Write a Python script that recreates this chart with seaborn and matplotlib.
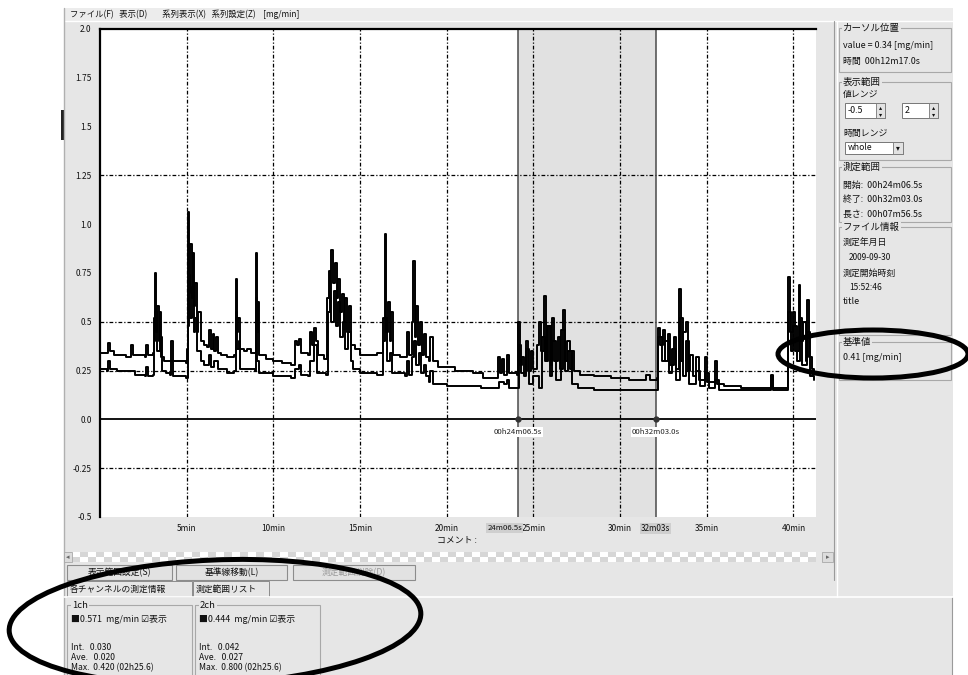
import matplotlib
matplotlib.use("Agg")
import numpy as np
import pandas as pd
import matplotlib.pyplot as plt
from matplotlib.patches import Rectangle, Ellipse
import seaborn as sns

# ---- measured traces: elapsed time [min] and rate [mg/min] ----
ch1_time = [0.0, 0.4, 0.45, 0.55, 0.8, 1.5, 1.75, 1.8, 1.9, 2.6, 2.65, 2.75, 3.05, 3.1, 3.15, 3.22,
            3.3, 3.38, 3.45, 3.52, 3.7, 4.05, 4.1, 4.2, 4.95, 5.0, 5.08, 5.15, 5.2, 5.28, 5.35, 5.42,
            5.5, 5.58, 5.65, 5.8, 6.0, 6.2, 6.3, 6.38, 6.5, 6.58, 6.7, 6.8, 7.0, 7.3, 7.75, 7.82,
            7.9, 7.98, 8.05, 8.3, 8.5, 8.7, 8.95, 9.0, 9.06, 9.12, 9.2, 9.6, 10.0, 10.5, 11.0, 11.2,
            11.25, 11.35, 11.5, 11.6, 12.0, 12.1, 12.2, 12.35, 12.45, 12.55, 12.9, 13.05, 13.1, 13.2,
            13.28, 13.35, 13.45, 13.55, 13.65, 13.75, 13.85, 13.95, 14.05, 14.15, 14.25, 14.35, 14.5,
            14.7, 15.0, 15.5, 16.0, 16.3, 16.35, 16.45, 16.5, 16.6, 16.7, 16.8, 16.9, 17.3, 17.6,
            17.7, 17.8, 18.0, 18.08, 18.15, 18.25, 18.35, 18.45, 18.55, 18.7, 18.8, 19.0, 19.05,
            19.2, 19.5, 20.5, 21.5, 22.0, 22.1, 22.9, 22.95, 23.05, 23.2, 23.3, 23.5, 23.6, 24.05,
            24.12, 24.2, 24.35, 24.45, 24.6, 24.7, 24.85, 25.0, 25.2, 25.35, 25.45, 25.6, 25.7,
            25.85, 26.0, 26.1, 26.2, 26.4, 26.55, 26.7, 26.8, 26.95, 27.1, 27.2, 27.35, 27.7, 28.5,
            29.5, 30.5, 31.3, 31.5, 31.7, 32.1, 32.18, 32.3, 32.45, 32.6, 32.75, 32.9, 33.1, 33.25,
            33.38, 33.5, 33.65, 33.8, 33.9, 34.05, 34.2, 34.4, 34.55, 34.9, 35.0, 35.5, 35.6, 36.0,
            37.0, 38.6, 38.7, 38.8, 39.6, 39.7, 39.8, 39.95, 40.1, 40.3, 40.4, 40.55, 40.7, 40.8,
            40.9, 41.05, 41.2]
ch1_rate = [0.34, 0.34, 0.39, 0.35, 0.33, 0.32, 0.32, 0.38, 0.33, 0.32, 0.38, 0.33, 0.34, 0.52, 0.75, 0.45,
            0.58, 0.40, 0.55, 0.32, 0.30, 0.30, 0.40, 0.30, 0.29, 0.36, 1.06, 0.65, 0.90, 0.62, 0.85, 0.58,
            0.70, 0.45, 0.55, 0.40, 0.38, 0.37, 0.46, 0.36, 0.44, 0.35, 0.42, 0.34, 0.33, 0.32, 0.33, 0.72,
            0.45, 0.52, 0.36, 0.35, 0.36, 0.34, 0.34, 0.85, 0.45, 0.60, 0.33, 0.31, 0.30, 0.29, 0.28, 0.28,
            0.40, 0.38, 0.41, 0.34, 0.33, 0.45, 0.38, 0.47, 0.40, 0.33, 0.31, 0.31, 0.62, 0.76,
            0.60, 0.87, 0.70, 0.80, 0.62, 0.72, 0.55, 0.64, 0.50, 0.62, 0.45, 0.58, 0.38,
            0.36, 0.33, 0.33, 0.34, 0.35, 0.52, 0.95, 0.45, 0.60, 0.40, 0.55, 0.33, 0.32, 0.32,
            0.45, 0.33, 0.50, 0.81, 0.42, 0.58, 0.38, 0.50, 0.33, 0.44, 0.32, 0.30, 0.42,
            0.30, 0.27, 0.25, 0.24, 0.24, 0.21, 0.21, 0.32, 0.24, 0.31, 0.23, 0.33, 0.24, 0.23,
            0.50, 0.28, 0.32, 0.22, 0.40, 0.25, 0.35, 0.26, 0.38, 0.50, 0.35, 0.63, 0.30,
            0.48, 0.28, 0.52, 0.30, 0.42, 0.26, 0.56, 0.30, 0.40, 0.26, 0.35, 0.25, 0.23, 0.22,
            0.21, 0.20, 0.20, 0.23, 0.20, 0.21, 0.47, 0.38, 0.46, 0.30, 0.44, 0.28, 0.42, 0.26,
            0.67, 0.30, 0.45, 0.50, 0.25, 0.33, 0.22, 0.32, 0.20, 0.32, 0.19, 0.30, 0.18, 0.17,
            0.16, 0.16, 0.23, 0.16, 0.16, 0.73, 0.45, 0.55, 0.35, 0.69, 0.40, 0.50, 0.30, 0.61,
            0.32, 0.26, 0.25]

ch2_time = [0.0, 0.4, 0.45, 0.55, 1.0, 2.0, 2.6, 2.65, 2.75, 3.05, 3.1, 3.2, 3.3, 3.45, 3.55, 3.8,
            4.05, 4.1, 4.2, 4.95, 5.05, 5.12, 5.2, 5.3, 5.4, 5.5, 5.6, 5.8, 6.0, 6.3, 6.4, 6.6, 6.8,
            7.3, 7.75, 7.82, 7.9, 8.0, 8.1, 8.95, 9.0, 9.08, 9.2, 10.0, 11.0, 11.25, 11.5, 11.6,
            12.0, 12.1, 12.35, 12.5, 13.05, 13.15, 13.25, 13.35, 13.5, 13.6, 13.75, 13.85, 14.0,
            14.15, 14.3, 14.45, 14.6, 15.0, 16.0, 16.35, 16.45, 16.55, 16.7, 16.85, 17.6, 17.7,
            17.8, 18.0, 18.1, 18.2, 18.4, 18.5, 18.7, 18.8, 19.0, 19.05, 19.2, 20.0, 22.0, 22.9,
            23.0, 23.3, 23.5, 23.6, 24.05, 24.15, 24.3, 24.6, 24.75, 25.0, 25.3, 25.5, 25.65, 25.8,
            25.95, 26.1, 26.3, 26.6, 26.8, 27.0, 27.2, 27.6, 28.5, 32.1, 32.2, 32.4, 32.6, 32.8,
            33.0, 33.2, 33.45, 33.6, 33.8, 34.0, 34.4, 34.6, 34.9, 35.1, 35.5, 35.7, 38.6, 38.7,
            38.8, 39.6, 39.7, 39.85, 40.0, 40.2, 40.35, 40.5, 40.8, 40.95, 41.2]
ch2_rate = [0.26, 0.25, 0.30, 0.26, 0.25, 0.23, 0.22, 0.27, 0.22, 0.23, 0.40, 0.55, 0.35, 0.42, 0.25, 0.24,
            0.23, 0.30, 0.22, 0.21, 0.48, 0.74, 0.52, 0.68, 0.45, 0.52, 0.35, 0.30, 0.28, 0.33, 0.27, 0.30, 0.26,
            0.24, 0.25, 0.55, 0.36, 0.40, 0.26, 0.25, 0.62, 0.30, 0.24, 0.22, 0.21, 0.26, 0.28, 0.23,
            0.22, 0.30, 0.38, 0.24, 0.23, 0.55, 0.62, 0.50, 0.66, 0.48, 0.60, 0.42, 0.50,
            0.36, 0.45, 0.30, 0.26, 0.24, 0.23, 0.40, 0.52, 0.30, 0.34, 0.24, 0.22, 0.30,
            0.23, 0.32, 0.40, 0.28, 0.34, 0.24, 0.28, 0.22, 0.19, 0.25, 0.18, 0.17, 0.16, 0.16,
            0.19, 0.18, 0.20, 0.16, 0.16, 0.38, 0.24, 0.36, 0.18, 0.22, 0.16, 0.42, 0.30, 0.48,
            0.22, 0.40, 0.20, 0.46, 0.25, 0.35, 0.18, 0.16, 0.15, 0.15, 0.42, 0.30, 0.40, 0.24,
            0.36, 0.20, 0.52, 0.22, 0.40, 0.18, 0.25, 0.17, 0.24, 0.16, 0.20, 0.15, 0.15, 0.22,
            0.15, 0.15, 0.55, 0.35, 0.48, 0.30, 0.52, 0.28, 0.45, 0.22, 0.20]

# ---- axis setup ----
x_ticks = [5, 10, 15, 20, 25, 30, 35, 40]
x_tick_labels = ["5min", "10min", "15min", "20min", "25min", "30min", "35min", "40min"]
y_ticks = [-0.5, -0.25, 0.0, 0.25, 0.5, 0.75, 1.0, 1.25, 1.5, 1.75, 2.0]
y_tick_labels = ["-0.5", "-0.25", "0.0", "0.25", "0.5", "0.75", "1.0", "1.25", "1.5", "1.75", "2.0"]
x_range = (0.0, 41.3)
y_range = (-0.5, 2.0)
h_grid_levels = [1.25, 0.5, 0.25, -0.25]

# measurement window
range_start = 24.108
range_end = 32.05
range_start_label = "24m06.5s"
range_end_label = "32m03s"
range_start_mark = "00h24m06.5s"
range_end_mark = "00h32m03.0s"

# ---- side panel texts ----
menu_text = "ファイル(F)   表示(D)        系列表示(X)   系列設定(Z)    [mg/min]"
cursor_title = "カーソル位置"
cursor_value = "value = 0.34 [mg/min]"
cursor_time = "時間  00h12m17.0s"
view_title = "表示範囲"
value_range_label = "値レンジ"
value_range_low = "-0.5"
value_range_high = "2"
time_range_label = "時間レンジ"
time_range_value = "whole"
meas_title = "測定範囲"
meas_lines = ["開始:  00h24m06.5s", "終了:  00h32m03.0s", "長さ:  00h07m56.5s"]
file_title = "ファイル情報"
file_lines = [("測定年月日", 0), ("2009-09-30", 6), ("測定開始時刻", 0), ("15:52:46", 6), ("title", 0)]
ref_title = "基準値"
ref_value = "0.41 [mg/min]"

button_labels = ["表示範囲設定(S)", "基準線移動(L)", "測定範囲削除(D)"]
tab_labels = ["各チャンネルの測定情報", "測定範囲リスト"]
channel_names = ["1ch", "2ch"]
channel_head = ["■0.571  mg/min ☑表示", "■0.444  mg/min ☑表示"]
channel_int = ["Int.   0.030", "Int.   0.042"]
channel_ave = ["Ave.   0.020", "Ave.   0.027"]
channel_max = ["Max.  0.420 (02h25.6)", "Max.  0.800 (02h25.6)"]
comment_label = "コメント :"

sns.set_theme(style="white")
plt.rcParams["font.family"] = ["Noto Sans CJK JP", "DejaVu Sans"]

W, H = 968, 675
fig = plt.figure(figsize=(W / 100, H / 100), dpi=100)
fig.patch.set_facecolor("white")

PANEL = "#e6e6e6"
EDGE = "#a8a8a8"


def frac(x0, y0, x1, y1):
    return [x0 / W, 1 - y1 / H, (x1 - x0) / W, (y1 - y0) / H]


# background window in pixel coordinates
bg = fig.add_axes([0, 0, 1, 1], zorder=0)
bg.set_xlim(0, W)
bg.set_ylim(H, 0)
bg.axis("off")


def box(x0, y0, x1, y1, fc=PANEL, ec="none", lw=0.8, **kw):
    bg.add_patch(Rectangle((x0, y0), x1 - x0, y1 - y0, facecolor=fc, edgecolor=ec, linewidth=lw, **kw))


def put(x, y, s, size=6.5, ha="left", color="#111111", **kw):
    bg.text(x, y, s, fontsize=size, ha=ha, va="center", color=color, **kw)


def group(x0, y0, x1, y1, title, tx=None):
    box(x0, y0, x1, y1, fc="none", ec=EDGE, lw=0.8)
    put(x0 + 5 if tx is None else tx, y0, title, size=6.8,
        bbox=dict(facecolor=PANEL, edgecolor="none", pad=0.5))


box(64, 8, 953, 675)                        # window body
box(64, 8, 953, 21, fc="#ececec")           # menu strip
bg.plot([64, 953], [21, 21], color="white", lw=1)
put(70, 14.5, menu_text, size=6)
bg.plot([64, 64], [8, 675], color="#b0b0b0", lw=1)
box(61, 110, 65, 140, fc="#222222")

# plot panel / right panel separators
bg.plot([834, 834], [21, 580], color="#9a9a9a", lw=0.8)
bg.plot([837, 837], [21, 597], color="#ffffff", lw=1.0)
bg.plot([952, 952], [597, 675], color="#9a9a9a", lw=0.8)
bg.plot([64, 953], [597, 597], color="#ffffff", lw=1.2)

# checkered horizontal scrollbar
cell = 8
ncol = (820 - 72) // cell
checker = np.indices((2, ncol)).sum(axis=0) % 2
bg.imshow(checker, cmap=matplotlib.colors.ListedColormap(["#ffffff", "#d6d6d6"]),
          extent=(72, 72 + ncol * cell, 562, 552), aspect="auto", interpolation="nearest", zorder=1)
box(64, 552, 72, 562, fc="#dcdcdc", ec=EDGE, lw=0.6, zorder=2)
put(68, 557, "◂", size=5, ha="center", color="#666666", zorder=3)
box(822, 552, 833, 562, fc="#dcdcdc", ec=EDGE, lw=0.6, zorder=2)
put(827.5, 557, "▸", size=5, ha="center", color="#666666", zorder=3)

# buttons and tabs
for (x0, x1), lab, col in zip([(67, 172), (176, 287), (293, 415)], button_labels,
                              ["#111111", "#111111", "#9a9a9a"]):
    box(x0, 565, x1, 580, fc="#e2e2e2", ec="#8c8c8c", lw=0.8)
    put((x0 + x1) / 2, 572.5, lab, size=6.3, ha="center", color=col)
for (x0, x1), lab in zip([(67, 192), (193, 269)], tab_labels):
    box(x0, 581, x1, 597, fc=PANEL, ec="#8c8c8c", lw=0.7)
    put(x0 + 3, 589, lab, size=6.3)

# per-channel info boxes
for i, x0 in enumerate([67, 195]):
    group(x0, 605, x0 + 125, 690, channel_names[i])
    put(x0 + 4, 619, channel_head[i], size=6.4)
    put(x0 + 4, 647, channel_int[i], size=6.2)
    put(x0 + 4, 657.5, channel_ave[i], size=6.2)
    put(x0 + 4, 668, channel_max[i], size=6.2)

# right-hand control panel
group(839, 28, 951, 72, cursor_title, tx=843)
put(843, 45, cursor_value, size=6.4)
put(843, 61, cursor_time, size=6.4)

group(839, 82, 951, 160, view_title, tx=843)
put(843, 94, value_range_label, size=6.4)
box(845, 103, 885, 118, fc="white", ec="#777777", lw=0.7)
put(848, 110.5, value_range_low, size=6.4)
box(876, 103, 885, 118, fc="#e2e2e2", ec="#777777", lw=0.6)
put(880.5, 107, "▴", size=4.5, ha="center")
put(880.5, 114.5, "▾", size=4.5, ha="center")
box(902, 103, 938, 118, fc="white", ec="#777777", lw=0.7)
put(905, 110.5, value_range_high, size=6.4)
box(929, 103, 938, 118, fc="#e2e2e2", ec="#777777", lw=0.6)
put(933.5, 107, "▴", size=4.5, ha="center")
put(933.5, 114.5, "▾", size=4.5, ha="center")
put(843, 133, time_range_label, size=6.4)
box(845, 142, 903, 154, fc="white", ec="#777777", lw=0.7)
put(848, 148, time_range_value, size=6.2)
box(893, 142, 903, 154, fc="#e2e2e2", ec="#777777", lw=0.6)
put(898, 148, "▾", size=5.5, ha="center")

group(839, 167, 951, 222, meas_title, tx=843)
for k, s in enumerate(meas_lines):
    put(843, 185 + 14.5 * k, s, size=6.4)

group(839, 227, 951, 335, file_title, tx=843)
fy = [243, 257, 273, 287, 302]
for (s, ind), y in zip(file_lines, fy):
    put(843 + ind, y, s, size=6.4 if ind == 0 else 6.0)

group(839, 342, 951, 380, ref_title, tx=843)
put(843, 358, ref_value, size=6.4)

# ---- main chart ----
ax = fig.add_axes(frac(100, 29, 816, 517), zorder=2)
ax.set_facecolor("white")
ax.axvspan(range_start, range_end, color="#e1e1e1", zorder=0, lw=0)

dash_dot = (0, (3, 1.6, 1, 1.6))
for xv in x_ticks:
    ax.axvline(xv, color="black", lw=0.9, ls=dash_dot, zorder=1)
for yv in h_grid_levels:
    ax.axhline(yv, color="black", lw=0.9, ls=dash_dot, zorder=1)
ax.axhline(0.0, color="black", lw=1.3, zorder=1)
for xv in (range_start, range_end):
    ax.axvline(xv, color="#4a4a4a", lw=1.1, zorder=1)

df1 = pd.DataFrame({"time": ch1_time, "rate": ch1_rate})
df2 = pd.DataFrame({"time": ch2_time, "rate": ch2_rate})
sns.lineplot(data=df1, x="time", y="rate", ax=ax, color="black", lw=1.4,
             estimator=None, sort=False, drawstyle="steps-post", zorder=3)
sns.lineplot(data=df2, x="time", y="rate", ax=ax, color="black", lw=1.4,
             estimator=None, sort=False, drawstyle="steps-post", zorder=3)

# range markers on the zero line
for xv, lab in ((range_start, range_start_mark), (range_end, range_end_mark)):
    ax.plot([xv], [0.0], marker="o", ms=3.5, color="#333333", zorder=4)
    ax.annotate(lab, xy=(xv, 0.0), xytext=(0, -6), textcoords="offset points",
                ha="center", va="top", fontsize=5.6, color="#222222", zorder=5,
                bbox=dict(facecolor="white", edgecolor="none", pad=0.6))

ax.set_xlim(*x_range)
ax.set_ylim(*y_range)
ax.set_xticks(x_ticks)
ax.set_xticklabels(x_tick_labels)
ax.set_yticks(y_ticks)
ax.set_yticklabels(y_tick_labels)
ax.tick_params(axis="both", length=0, labelsize=6, colors="#111111")
ax.tick_params(axis="x", pad=5)
ax.tick_params(axis="y", pad=6)
ax.set_xlabel("")
ax.set_ylabel("")
ax.grid(False)
for side in ("right", "bottom"):
    ax.spines[side].set_visible(False)
for side in ("left", "top"):
    ax.spines[side].set_color("black")
    ax.spines[side].set_linewidth(1.6)

# highlighted range labels under the time axis (start label kept clear of the 25min tick)
ax.annotate(range_start_label, xy=(range_start, y_range[0]), xytext=(3, -5), textcoords="offset points",
            ha="right", va="top", fontsize=5.6, color="#111111", zorder=6,
            annotation_clip=False, bbox=dict(facecolor="#cfcfcf", edgecolor="none", pad=0.8))
ax.annotate(range_end_label, xy=(range_end, y_range[0]), xytext=(0, -5), textcoords="offset points",
            ha="center", va="top", fontsize=5.8, color="#111111", zorder=6,
            annotation_clip=False, bbox=dict(facecolor="#cfcfcf", edgecolor="none", pad=0.8))

bg.text(437, 540, comment_label, fontsize=6.4, ha="left", va="center", color="#111111")

# ---- hand-drawn emphasis ellipses ----
top = fig.add_axes([0, 0, 1, 1], zorder=5)
top.set_xlim(0, W)
top.set_ylim(H, 0)
top.axis("off")
top.patch.set_alpha(0)
top.add_patch(Ellipse((215, 622), 412, 124, angle=-2.5, fill=False, edgecolor="black", lw=3.6))
top.add_patch(Ellipse((873, 354), 190, 48, angle=0, fill=False, edgecolor="black", lw=3.6))

fig.savefig("out.png", dpi=100)
